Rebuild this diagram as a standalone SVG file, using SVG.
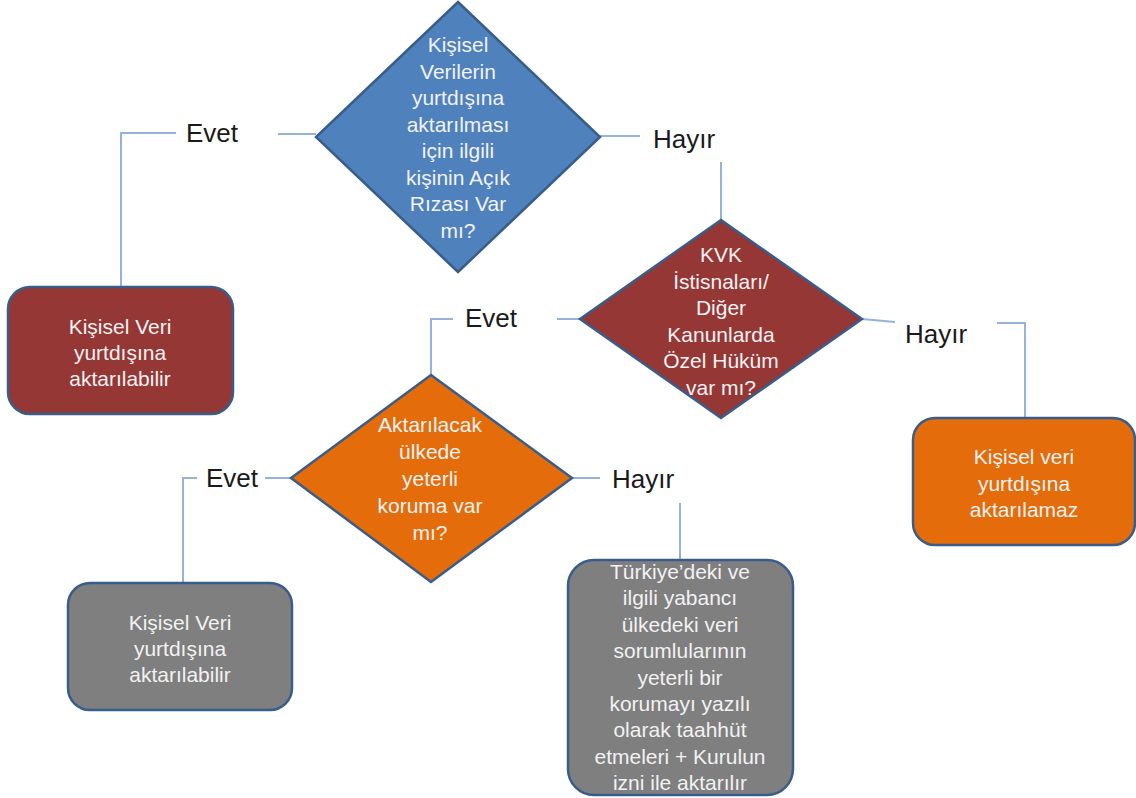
<svg xmlns="http://www.w3.org/2000/svg" width="1136" height="798" viewBox="0 0 1136 798">
<style>
.conn{fill:none;stroke:#95B3D7;stroke-width:2}
.shape{stroke:#385D8A;stroke-width:2.5}
.blue{fill:#4F81BD}
.red{fill:#953735}
.orange{fill:#E46C0A}
.grey{fill:#7F7F7F}
.nt{font-family:"Liberation Sans",Arial,sans-serif;font-size:21px;fill:#F2F2F2;text-anchor:middle}
.lbl{font-family:"Liberation Sans",Arial,sans-serif;font-size:26px;fill:#1A1A1A}
</style>
<rect width="1136" height="798" fill="#FFFFFF"/>
<g id="connectors">
<path class="conn" d="M316,134 H278"/>
<path class="conn" d="M176,133 H121 V287"/>
<path class="conn" d="M600,136 H640"/>
<path class="conn" d="M721,162 V220"/>
<path class="conn" d="M580,319 H557"/>
<path class="conn" d="M453,319 H431 V375"/>
<path class="conn" d="M862,319 L895,322"/>
<path class="conn" d="M997,323 H1025 V418"/>
<path class="conn" d="M291,478 H265"/>
<path class="conn" d="M197,478 H183 V583"/>
<path class="conn" d="M572,478 H600"/>
<path class="conn" d="M680,503 V560"/>
</g>
<g id="labels">
<text class="lbl" x="186" y="142">Evet</text>
<text class="lbl" x="653" y="148">Hayır</text>
<text class="lbl" x="465" y="327">Evet</text>
<text class="lbl" x="905" y="343">Hayır</text>
<text class="lbl" x="206" y="487">Evet</text>
<text class="lbl" x="612" y="488">Hayır</text>
</g>
<g id="d1">
<polygon class="shape blue" points="458,2 600,137 458,272 316,137"/>
<text class="nt"><tspan x="458" y="52">Kişisel</tspan><tspan x="458" y="78.5">Verilerin</tspan><tspan x="458" y="105">yurtdışına</tspan><tspan x="458" y="131.5">aktarılması</tspan><tspan x="458" y="158">için ilgili</tspan><tspan x="458" y="184.5">kişinin Açık</tspan><tspan x="458" y="211">Rızası Var</tspan><tspan x="458" y="237.5">mı?</tspan></text>
</g>
<g id="d2">
<polygon class="shape red" points="721,220 862,319 721,418 580,319"/>
<text class="nt"><tspan x="721" y="262">KVK</tspan><tspan x="721" y="288.5">İstisnaları/</tspan><tspan x="721" y="315">Diğer</tspan><tspan x="721" y="341.5">Kanunlarda</tspan><tspan x="721" y="368">Özel Hüküm</tspan><tspan x="721" y="394.5">var mı?</tspan></text>
</g>
<g id="d3">
<polygon class="shape orange" points="431,375 572,478 431,582 291,478"/>
<text class="nt"><tspan x="430" y="432">Aktarılacak</tspan><tspan x="430" y="459">ülkede</tspan><tspan x="430" y="486">yeterli</tspan><tspan x="430" y="513">koruma var</tspan><tspan x="430" y="540">mı?</tspan></text>
</g>
<g id="b1">
<rect class="shape red" x="8" y="287" width="225" height="127" rx="22"/>
<text class="nt"><tspan x="120" y="334">Kişisel Veri</tspan><tspan x="120" y="360">yurtdışına</tspan><tspan x="120" y="386">aktarılabilir</tspan></text>
</g>
<g id="b2">
<rect class="shape orange" x="913" y="418" width="222" height="127" rx="22"/>
<text class="nt"><tspan x="1024" y="464">Kişisel veri</tspan><tspan x="1024" y="491">yurtdışına</tspan><tspan x="1024" y="517">aktarılamaz</tspan></text>
</g>
<g id="b3">
<rect class="shape grey" x="68" y="583" width="224" height="127" rx="22"/>
<text class="nt"><tspan x="180" y="630">Kişisel Veri</tspan><tspan x="180" y="656">yurtdışına</tspan><tspan x="180" y="682">aktarılabilir</tspan></text>
</g>
<g id="b4">
<rect class="shape grey" x="568" y="560" width="225" height="235" rx="26"/>
<text class="nt"><tspan x="680" y="579">Türkiye’deki ve</tspan><tspan x="680" y="605.4">ilgili yabancı</tspan><tspan x="680" y="631.8">ülkedeki veri</tspan><tspan x="680" y="658.2">sorumlularının</tspan><tspan x="680" y="684.6">yeterli bir</tspan><tspan x="680" y="711">korumayı yazılı</tspan><tspan x="680" y="737.4">olarak taahhüt</tspan><tspan x="680" y="763.8">etmeleri + Kurulun</tspan><tspan x="680" y="790.2">izni ile aktarılır</tspan></text>
</g>
</svg>
